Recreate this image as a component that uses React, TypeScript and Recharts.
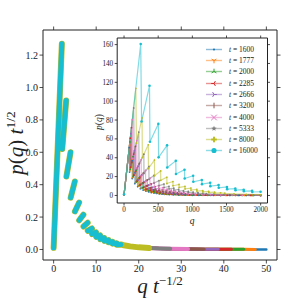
import React from 'react';
import { LineChart, Line, XAxis, YAxis, Legend } from 'recharts';

const FONT = '"Liberation Serif", "DejaVu Serif", serif';
const INK = '#222';

const T_VALUES = [1600, 1777, 2000, 2285, 2666, 3200, 4000, 5333, 8000, 16000];
const COLORS = ['#1f77b4', '#ff7f0e', '#2ca02c', '#d62728', '#9467bd', '#8c564b', '#e377c2', '#7f7f7f', '#bcbd22', '#17becf'];
const MARKERS = ['.', '1', '2', '3', '4', '|', 'x', '*', 'P', 'o'];
// where each series stops on the scaled axis (q = 2000)
const END_X = [50, 47.4, 44.7, 41.8, 38.7, 35.4, 31.6, 27.4, 22.4, 15.8];
const MAIN_WIDTH = [2.5, 3, 3, 3, 3, 3, 4, 4, 6, 5];

// collapsed curve: saw teeth, then a smooth tail
const TOOTH_START_X = [0, 2.03, 3.0, 4.0, 5.0, 6.01, 7.02, 8.02, 9.02, 9.99, 10.96, 11.93, 12.9, 13.87, 14.84];
const TOOTH_START_Y = [0.01, 0.62, 0.45, 0.32, 0.235, 0.18, 0.142, 0.115, 0.095, 0.078, 0.064, 0.053, 0.044, 0.036, 0.029];
const TOOTH_PEAK_X = [1.93, 2.95, 3.97, 4.98, 5.99, 7.0, 8.0, 9.0, 9.97, 10.94, 11.91, 12.88, 13.85, 14.82, 15.8];
const TOOTH_PEAK_Y = [1.27, 0.92, 0.6, 0.42, 0.29, 0.215, 0.165, 0.13, 0.106, 0.087, 0.071, 0.058, 0.048, 0.039, 0.031];
const TAIL_X = [16.5, 18, 20, 22.4, 25, 27.4, 31.6, 35.4, 38.7, 41.8, 44.7, 47.4, 50];
const TAIL_Y = [0.026, 0.019, 0.013, 0.009, 0.006, 0.0045, 0.003, 0.002, 0.0015, 0.0011, 0.0008, 0.0006, 0.0005];

const MAIN_X_TICKS = [0, 10, 20, 30, 40, 50];
const MAIN_Y_TICKS = [0, 0.2, 0.4, 0.6, 0.8, 1.0, 1.2];
const INSET_X_TICKS = [0, 500, 1000, 1500, 2000];
const INSET_Y_TICKS = [0, 20, 40, 60, 80, 100, 120, 140, 160];

type Pt = { x: number; y: number | null };

const collapsed = (end: number, gaps: boolean): Pt[] => {
  const pts: Pt[] = [];
  TOOTH_START_X.forEach((sx, i) => {
    if (sx > end + 0.01) return;
    if (gaps && i > 0) pts.push({ x: (TOOTH_PEAK_X[i - 1] + sx) / 2, y: null });
    pts.push({ x: sx, y: TOOTH_START_Y[i] });
    if (TOOTH_PEAK_X[i] <= end + 0.01) pts.push({ x: TOOTH_PEAK_X[i], y: TOOTH_PEAK_Y[i] });
  });
  TAIL_X.forEach((tx, i) => {
    if (tx <= end + 0.01) pts.push({ x: tx, y: TAIL_Y[i] });
  });
  return pts;
};

const mainData = T_VALUES.map((t, i) => collapsed(END_X[i], true));
// inset is the unscaled p(q) vs q
const insetData = T_VALUES.map((t, i) => {
  const s = Math.sqrt(t);
  return collapsed(END_X[i], false).map(p => ({ x: p.x * s, y: (p.y as number) * s }));
});

const Marker = ({ kind, cx, cy, color, s }: { kind: string; cx: number; cy: number; color: string; s: number }) => {
  const arm = (dx: number, dy: number, k: number) => (
    <line key={k} x1={cx} y1={cy} x2={cx + dx} y2={cy + dy} stroke={color} strokeWidth={1} />
  );
  switch (kind) {
    case '.':
      return <circle cx={cx} cy={cy} r={s * 0.4} fill={color} />;
    case 'o':
      return <circle cx={cx} cy={cy} r={s * 0.75} fill={color} />;
    case '1':
      return <g>{[arm(0, s, 0), arm(-0.87 * s, -0.5 * s, 1), arm(0.87 * s, -0.5 * s, 2)]}</g>;
    case '2':
      return <g>{[arm(0, -s, 0), arm(-0.87 * s, 0.5 * s, 1), arm(0.87 * s, 0.5 * s, 2)]}</g>;
    case '3':
      return <g>{[arm(-s, 0, 0), arm(0.5 * s, -0.87 * s, 1), arm(0.5 * s, 0.87 * s, 2)]}</g>;
    case '4':
      return <g>{[arm(s, 0, 0), arm(-0.5 * s, -0.87 * s, 1), arm(-0.5 * s, 0.87 * s, 2)]}</g>;
    case '|':
      return <g>{[arm(0, -s, 0), arm(0, s, 1)]}</g>;
    case 'x':
      return <g>{[arm(-s, -s, 0), arm(s, s, 1), arm(-s, s, 2), arm(s, -s, 3)]}</g>;
    case '*': {
      const pts = Array.from({ length: 10 }, (_, k) => {
        const r = k % 2 === 0 ? s : s * 0.45;
        const a = -Math.PI / 2 + (k * Math.PI) / 5;
        return `${cx + r * Math.cos(a)},${cy + r * Math.sin(a)}`;
      }).join(' ');
      return <polygon points={pts} fill={color} />;
    }
    case 'P': {
      const w = s * 0.35;
      return (
        <g fill={color}>
          <rect x={cx - s} y={cy - w} width={2 * s} height={2 * w} />
          <rect x={cx - w} y={cy - s} width={2 * w} height={2 * s} />
        </g>
      );
    }
    default:
      return null;
  }
};

const InsetLegend = () => (
  <div style={{ fontFamily: FONT, fontSize: 7.5, color: INK }}>
    {T_VALUES.map((t, i) => (
      <div key={t} style={{ display: 'flex', alignItems: 'center', height: 11.3 }}>
        <svg width={16} height={11} style={{ overflow: 'visible' }}>
          <line x1={0} x2={16} y1={5.5} y2={5.5} stroke={COLORS[i]} strokeOpacity={0.5} strokeWidth={1.4} />
          <Marker kind={MARKERS[i]} cx={8} cy={5.5} color={COLORS[i]} s={i === 9 ? 3.4 : 2.8} />
        </svg>
        <span style={{ marginLeft: 7, whiteSpace: 'pre' }}>
          <i>t</i> = {t}
        </span>
      </div>
    ))}
  </div>
);

const MainYTitle = () => (
  <text transform="translate(23,143) rotate(-90)" textAnchor="middle" fontFamily={FONT} fontSize={21} fill={INK}>
    <tspan fontStyle="italic">p</tspan>
    <tspan>(</tspan>
    <tspan fontStyle="italic">q</tspan>
    <tspan>) </tspan>
    <tspan fontStyle="italic">t</tspan>
    <tspan fontSize={13.5} dy={-8.5}>1/2</tspan>
  </text>
);

const MainXTitle = () => (
  <text x={160} y={293} textAnchor="middle" fontFamily={FONT} fontSize={21} fill={INK}>
    <tspan fontStyle="italic">q </tspan>
    <tspan fontStyle="italic">t</tspan>
    <tspan fontSize={13} dy={-8.5}>−1/2</tspan>
  </text>
);

const InsetYTitle = () => (
  <text transform="translate(12,92) rotate(-90)" textAnchor="middle" fontFamily={FONT} fontSize={9.5} fill={INK}>
    <tspan fontStyle="italic">p</tspan>
    <tspan>(</tspan>
    <tspan fontStyle="italic">q</tspan>
    <tspan>)</tspan>
  </text>
);

const InsetXTitle = () => (
  <text x={102} y={193.5} textAnchor="middle" fontFamily={FONT} fontSize={9.5} fontStyle="italic" fill={INK}>
    q
  </text>
);

const axisProps = {
  stroke: INK,
  axisLine: { stroke: INK, strokeWidth: 1 },
  tickLine: { stroke: INK, strokeWidth: 0.8 },
  allowDataOverflow: true,
  type: 'number' as const,
};

export default function App() {
  return (
    <div style={{ position: 'absolute', left: 0, top: 0, width: 300, height: 300, background: '#fff' }}>
      <LineChart width={300} height={300} margin={{ top: 26, right: 19, bottom: 0, left: 0 }}>
        <XAxis
          {...axisProps}
          xAxisId="b"
          dataKey="x"
          domain={[-2.5, 52.5]}
          ticks={MAIN_X_TICKS}
          height={40}
          tickSize={3.5}
          tickMargin={1.5}
          tick={{ fontSize: 10, fontFamily: FONT, fill: INK }}
          label={<MainXTitle />}
        />
        <XAxis
          {...axisProps}
          xAxisId="t"
          orientation="top"
          dataKey="x"
          domain={[-2.5, 52.5]}
          ticks={MAIN_X_TICKS}
          height={4}
          tickSize={3.5}
          tickFormatter={() => ''}
        />
        <YAxis
          {...axisProps}
          yAxisId="l"
          domain={[-0.065, 1.355]}
          ticks={MAIN_Y_TICKS}
          width={43}
          tickSize={3.5}
          tickMargin={1.5}
          tickFormatter={(v: number) => v.toFixed(1)}
          tick={{ fontSize: 10, fontFamily: FONT, fill: INK }}
          label={<MainYTitle />}
        />
        <YAxis
          {...axisProps}
          yAxisId="r"
          orientation="right"
          domain={[-0.065, 1.355]}
          ticks={MAIN_Y_TICKS}
          width={4}
          tickSize={3.5}
          tickFormatter={() => ''}
        />
        {T_VALUES.map((t, i) => (
          <Line
            key={t}
            xAxisId="b"
            yAxisId="l"
            data={mainData[i]}
            dataKey="y"
            stroke={COLORS[i]}
            strokeWidth={MAIN_WIDTH[i]}
            strokeLinecap="round"
            strokeLinejoin="round"
            dot={false}
            activeDot={false}
            isAnimationActive={false}
          />
        ))}
      </LineChart>

      <div style={{ position: 'absolute', left: 90, top: 30 }}>
        <LineChart width={185} height={200} margin={{ top: 5, right: 4.5, bottom: 0, left: 0.2 }}>
          <XAxis
            {...axisProps}
            xAxisId="b"
            dataKey="x"
            domain={[-100, 2100]}
            ticks={INSET_X_TICKS}
            height={27}
            tickSize={2.5}
            tickMargin={1}
            tick={{ fontSize: 7.2, fontFamily: FONT, fill: INK }}
            label={<InsetXTitle />}
          />
          <XAxis
            {...axisProps}
            xAxisId="t"
            orientation="top"
            dataKey="x"
            domain={[-100, 2100]}
            ticks={INSET_X_TICKS}
            height={3}
            tickSize={2.5}
            tickFormatter={() => ''}
          />
          <YAxis
            {...axisProps}
            yAxisId="l"
            domain={[-8, 167]}
            ticks={INSET_Y_TICKS}
            width={27}
            tickSize={2.5}
            tickMargin={1.5}
            tick={{ fontSize: 7.2, fontFamily: FONT, fill: INK }}
            label={<InsetYTitle />}
          />
          <YAxis
            {...axisProps}
            yAxisId="r"
            orientation="right"
            domain={[-8, 167]}
            ticks={INSET_Y_TICKS}
            width={3}
            tickSize={2.5}
            tickFormatter={() => ''}
          />
          <Legend
            content={<InsetLegend />}
            layout="vertical"
            align="center"
            verticalAlign="middle"
            wrapperStyle={{ left: 116, top: 13.6, width: 62 }}
          />
          {T_VALUES.map((t, i) => (
            <Line
              key={t}
              xAxisId="b"
              yAxisId="l"
              data={insetData[i]}
              dataKey="y"
              stroke={COLORS[i]}
              strokeOpacity={0.55}
              strokeWidth={1.2}
              dot={{ r: i === 9 ? 1.3 : 0.9, fill: COLORS[i], stroke: 'none' }}
              activeDot={false}
              isAnimationActive={false}
            />
          ))}
        </LineChart>
      </div>
    </div>
  );
}
